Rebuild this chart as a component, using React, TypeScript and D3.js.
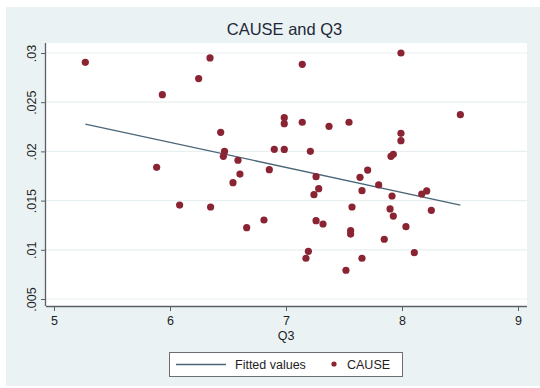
import * as React from 'react';
import * as d3 from 'd3';

// CAUSE vs Q3
const q3 = [
    5.27, 5.885, 5.934, 6.083, 6.247, 6.345, 6.35, 6.437, 6.47, 6.46,
    6.543, 6.586, 6.603, 6.661, 6.81, 6.856, 6.899, 6.985, 6.985, 6.985,
    7.14, 7.14, 7.21, 7.172, 7.193, 7.241, 7.259, 7.282, 7.259, 7.319,
    7.371, 7.517, 7.543, 7.557, 7.557, 7.569, 7.638, 7.655, 7.655, 7.704,
    7.799, 7.847, 7.897, 7.905, 7.925, 7.914, 7.925, 7.991, 7.991, 7.991,
    8.034, 8.106, 8.17, 8.213, 8.253, 8.503
];
const cause = [
    0.02905, 0.01838, 0.02576, 0.01455, 0.0274, 0.0295, 0.01435, 0.02194, 0.0200, 0.0195,
    0.01682, 0.0191, 0.0177, 0.01225, 0.01303, 0.01814, 0.02021, 0.02343, 0.02282, 0.0202,
    0.02885, 0.02296, 0.02001, 0.00914, 0.00985, 0.0156, 0.01743, 0.01621, 0.01296, 0.01262,
    0.02255, 0.00792, 0.02296, 0.01194, 0.0116, 0.01435, 0.01737, 0.01601, 0.00914, 0.0181,
    0.01659, 0.01107, 0.01415, 0.0195, 0.0197, 0.01547, 0.01343, 0.0300, 0.02184, 0.02109,
    0.01235, 0.00971, 0.01567, 0.01598, 0.01401, 0.02373
];
// fitted values (ends of the regression line)
const fitX = [5.27, 8.503];
const fitY = [0.02278, 0.01455];

const xTicks = [5, 6, 7, 8, 9];
const yTicks = [0.005, 0.01, 0.015, 0.02, 0.025, 0.03];
const yTickLabels = ['.005', '.01', '.015', '.02', '.025', '.03'];

const W = 540;
const H = 388;
const font = 'Liberation Sans, Arial, sans-serif';

export default function App() {
    const ref = React.useRef<SVGSVGElement>(null);

    React.useEffect(() => {
        const svg = d3.select(ref.current);
        svg.selectAll('*').remove();

        const plot = { left: 46, right: 527, top: 43, bottom: 306 };

        const xScale = d3.scaleLinear().domain([5, 9]).range([54, 518]);
        const yScale = d3.scaleLinear().domain([0.005, 0.03]).range([299, 53]);

        // outer background
        svg.append('rect')
            .attr('x', 6).attr('y', 7)
            .attr('width', W - 6).attr('height', H - 9)
            .attr('fill', '#eaf2f3');

        svg.append('rect')
            .attr('x', plot.left).attr('y', plot.top)
            .attr('width', plot.right - plot.left).attr('height', plot.bottom - plot.top)
            .attr('fill', '#ffffff');

        // grid
        svg.append('g')
            .selectAll('line')
            .data(yTicks)
            .enter()
            .append('line')
            .attr('x1', plot.left).attr('x2', plot.right)
            .attr('y1', d => yScale(d)).attr('y2', d => yScale(d))
            .attr('stroke', '#e8f0f1')
            .attr('stroke-width', 1.2);

        svg.append('text')
            .attr('x', (plot.left + plot.right) / 2 - 2)
            .attr('y', 35)
            .attr('text-anchor', 'middle')
            .style('font-family', font)
            .style('font-size', '16.5px')
            .attr('fill', '#1e2838')
            .text('CAUSE and Q3');

        // axes
        const xAxis = d3.axisBottom(xScale).tickValues(xTicks).tickSize(5).tickFormat(d3.format('d'));
        const gx = svg.append('g')
            .attr('transform', 'translate(0,' + plot.bottom + ')')
            .call(xAxis);
        gx.select('.domain').attr('d', 'M' + plot.left + ',0.5H' + plot.right).attr('stroke', '#5a5f66').attr('stroke-width', 1.3);
        gx.selectAll('.tick line').attr('stroke', '#5a5f66');
        gx.selectAll('.tick text')
            .attr('dy', '1em')
            .attr('y', 6)
            .style('font-family', font)
            .style('font-size', '12.5px')
            .attr('fill', '#1e1e1e');

        const yAxis = d3.axisLeft(yScale).tickValues(yTicks).tickSize(5).tickFormat((d, i) => yTickLabels[i]);
        const gy = svg.append('g')
            .attr('transform', 'translate(' + plot.left + ',0)')
            .call(yAxis);
        gy.select('.domain').attr('d', 'M-0.5,' + plot.top + 'V' + plot.bottom).attr('stroke', '#5a5f66').attr('stroke-width', 1.3);
        gy.selectAll('.tick line').attr('stroke', '#5a5f66');
        gy.selectAll('.tick text')
            .attr('x', null).attr('dy', null)
            .attr('transform', 'translate(-10,0) rotate(-90)')
            .attr('text-anchor', 'middle')
            .style('font-family', font)
            .style('font-size', '12.5px')
            .attr('fill', '#1e1e1e');

        svg.append('text')
            .attr('x', xScale(7))
            .attr('y', 340)
            .attr('text-anchor', 'middle')
            .style('font-family', font)
            .style('font-size', '12.5px')
            .attr('fill', '#1e1e1e')
            .text('Q3');

        // fitted line
        const line = d3.line<number>()
            .x(d => xScale(d))
            .y((d, i) => yScale(fitY[i]));
        svg.append('path')
            .datum(fitX)
            .attr('d', line)
            .attr('fill', 'none')
            .attr('stroke', '#4a6578')
            .attr('stroke-width', 1.3);

        // points
        svg.append('g')
            .selectAll('circle')
            .data(q3)
            .enter()
            .append('circle')
            .attr('cx', d => xScale(d))
            .attr('cy', (d, i) => yScale(cause[i]))
            .attr('r', 3.6)
            .attr('fill', '#8a2433');

        // legend
        const lg = svg.append('g');
        lg.append('rect')
            .attr('x', 169.5).attr('y', 352.5)
            .attr('width', 233).attr('height', 24)
            .attr('fill', '#ffffff')
            .attr('stroke', '#6b6f74');
        lg.append('line')
            .attr('x1', 176).attr('x2', 226)
            .attr('y1', 364.5).attr('y2', 364.5)
            .attr('stroke', '#4a6578')
            .attr('stroke-width', 1.3);
        lg.append('text')
            .attr('x', 235).attr('y', 369)
            .style('font-family', font)
            .style('font-size', '12.5px')
            .attr('fill', '#1e1e1e')
            .text('Fitted values');
        lg.append('circle')
            .attr('cx', 334).attr('cy', 364)
            .attr('r', 2.6)
            .attr('fill', '#8a2433');
        lg.append('text')
            .attr('x', 347).attr('y', 369)
            .style('font-family', font)
            .style('font-size', '12.5px')
            .attr('fill', '#1e1e1e')
            .text('CAUSE');
    }, []);

    return (
        <svg ref={ref} width={W} height={H}
            style={{ position: 'absolute', left: 0, top: 0, background: '#ffffff' }} />
    );
}
